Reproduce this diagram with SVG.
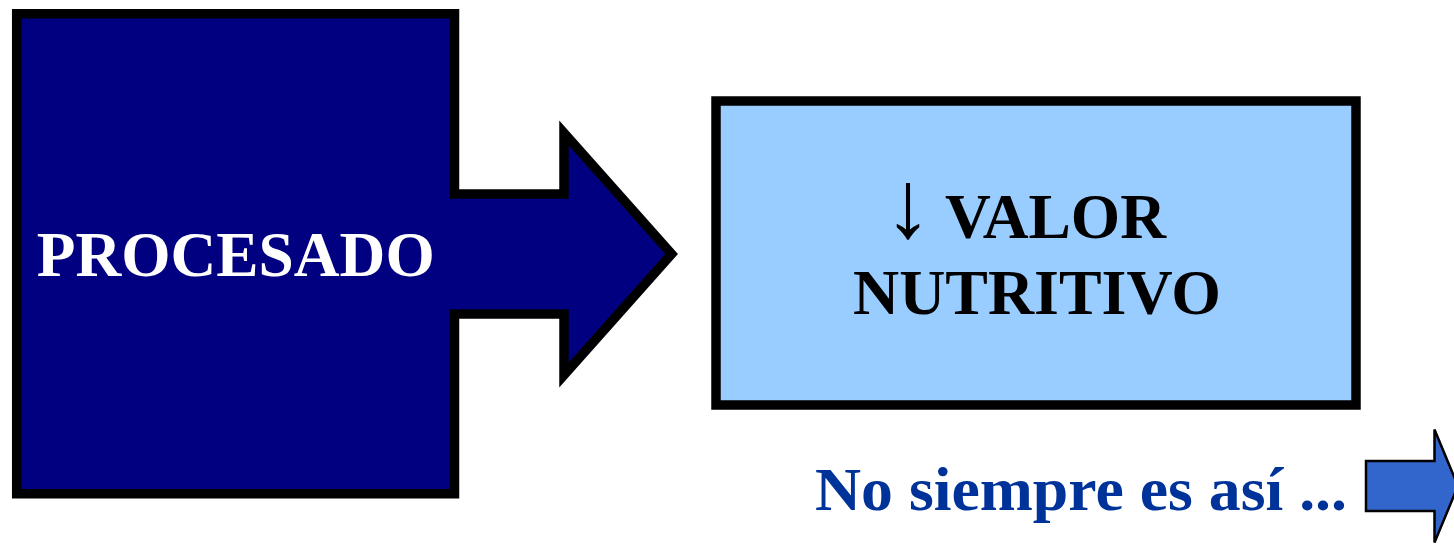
<svg xmlns="http://www.w3.org/2000/svg" width="1454" height="544" viewBox="0 0 1454 544">
<style>
.t{font-family:"Liberation Serif","Times New Roman",serif;font-weight:bold}
.big{font-size:64px}
.thick{stroke:#000;stroke-width:9.5;stroke-linejoin:miter;stroke-miterlimit:6}
</style>
<rect width="1454" height="544" fill="#fff"/>
<g id="node-procesado">
<path class="thick" fill="#000080" d="M16.7,13.7 H454.5 V194 H564 V133 L671.6,254 L564,375 V314 H454.5 V493.8 H16.7 Z"/>
<text class="t big" x="36.7" y="276" fill="#fff" textLength="398" lengthAdjust="spacingAndGlyphs">PROCESADO</text>
</g>
<g id="node-valor">
<rect class="thick" fill="#99CCFF" x="716" y="101" width="640" height="304"/>
<text class="t big" fill="#000"><tspan x="884" y="237" font-weight="normal" font-size="96">↓</tspan><tspan x="945" y="238" textLength="221" lengthAdjust="spacingAndGlyphs">VALOR</tspan></text>
<text class="t big" x="853" y="314" fill="#000" textLength="368" lengthAdjust="spacingAndGlyphs">NUTRITIVO</text>
</g>
<g id="node-note">
<text class="t" font-size="62" x="815" y="510" fill="#003399" textLength="532" lengthAdjust="spacingAndGlyphs">No siempre es así ...</text>
</g>
<g id="connectors">
<path fill="#3366CC" stroke="#000" stroke-width="2.5" d="M1366,461 H1434.5 V429.5 L1458,486 L1434.5,542.5 V511 H1366 Z"/>
</g>
</svg>
